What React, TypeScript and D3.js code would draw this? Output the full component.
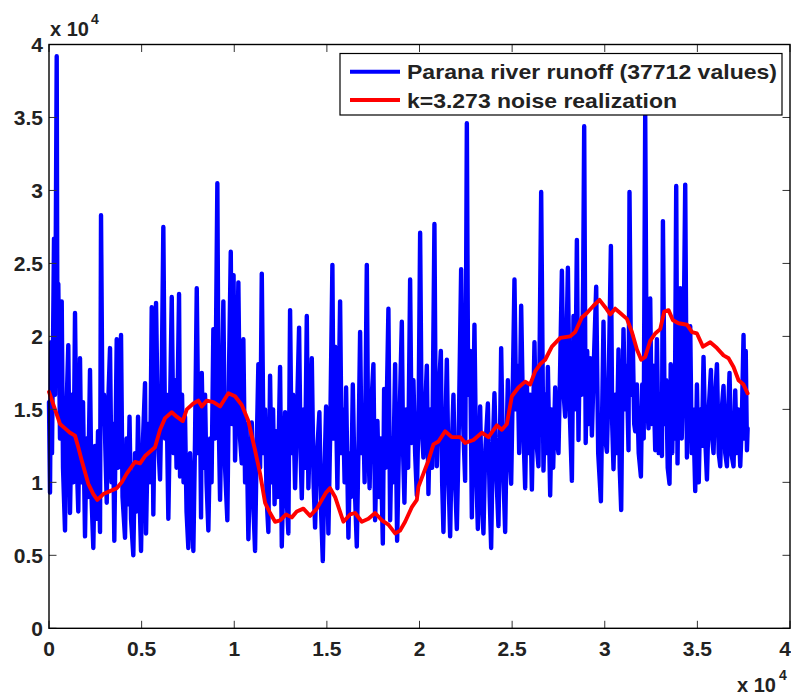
import React from "react";
import * as d3 from "d3";

// Parana river runoff as [sample index, runoff]
const runoff: [number, number][] = [
[0,15500],[54,9300],[108,19600],[162,12000],[270,26700],[324,16000],[416,39200],[459,17000],[502,23600],[594,13000],[686,22400],[756,11000],[864,6700],[945,15000],[1042,19400],[1134,7900],[1242,16000],[1323,10000],[1404,21600],[1485,12000],[1582,8000],[1674,18500],[1755,10000],[1836,15500],[1944,6300],[2025,13000],[2106,9000],[2214,17700],[2295,9000],[2392,5500],[2484,12500],[2565,7500],[2646,13500],[2754,6600],[2808,28300],[2889,14000],[2970,16000],[3116,8600],[3186,15000],[3294,19200],[3375,10000],[3456,14000],[3526,6000],[3591,13000],[3656,19800],[3726,11000],[3807,15000],[3888,20100],[3969,9000],[4104,6200],[4185,13000],[4266,8500],[4347,14500],[4428,7500],[4552,5000],[4644,12000],[4725,8000],[4806,14500],[4887,9000],[4968,5300],[5076,13000],[5184,16800],[5238,6500],[5346,14000],[5454,10000],[5546,22000],[5632,7800],[5778,22300],[5886,13000],[5994,10200],[6075,16000],[6172,27500],[6264,13000],[6345,16000],[6442,7500],[6534,15000],[6626,22700],[6723,12000],[6804,17000],[6885,11000],[7020,22900],[7074,10400],[7182,16000],[7263,10000],[7344,14500],[7425,8000],[7522,5500],[7614,12000],[7695,8500],[7792,5300],[7884,13000],[7976,23300],[8073,12000],[8154,15000],[8208,7600],[8246,17500],[8343,11000],[8424,16000],[8505,10000],[8602,6700],[8694,13000],[8775,10000],[8872,20500],[8964,13000],[9088,30500],[9153,15000],[9234,8800],[9315,15000],[9412,22400],[9504,11000],[9628,7400],[9720,18000],[9812,25800],[9882,14000],[9963,24200],[10044,11500],[10125,16000],[10222,23700],[10314,13000],[10406,11300],[10492,19800],[10584,10000],[10665,14000],[10762,6100],[10854,11000],[10946,14100],[11043,8000],[11124,5300],[11205,12000],[11302,18100],[11394,11000],[11486,24300],[11583,12000],[11664,15000],[11745,9000],[11842,6600],[11934,17300],[12015,10000],[12096,15000],[12177,8500],[12258,13500],[12339,9000],[12474,17900],[12566,5600],[12663,11000],[12744,14800],[12825,9000],[12922,6500],[13014,21800],[13095,12000],[13176,16000],[13284,9600],[13392,15000],[13500,20600],[13581,12000],[13646,8900],[13743,15000],[13824,11000],[13916,21400],[14002,9600],[14094,14000],[14186,18500],[14283,10000],[14364,6900],[14472,12000],[14596,14800],[14688,8000],[14780,4600],[14877,11000],[14958,15200],[15082,6500],[15174,13000],[15298,24900],[15363,13000],[15444,19300],[15568,9600],[15714,22400],[15795,12000],[15876,15000],[15957,10000],[16038,16500],[16162,6200],[16254,12000],[16308,9000],[16400,16700],[16497,10000],[16616,5600],[16713,13000],[16794,20300],[16875,12000],[16956,15000],[17037,10000],[17156,24900],[17226,13000],[17307,9600],[17388,15000],[17512,18100],[17604,7400],[17728,14200],[17820,9000],[17901,13000],[18020,5800],[18090,16400],[18171,11000],[18322,21900],[18414,7400],[18495,13000],[18576,10000],[18684,18100],[18792,6000],[18900,13000],[19046,21000],[19116,12000],[19186,8600],[19278,15000],[19386,11000],[19494,23900],[19575,12700],[19672,17000],[19764,12000],[19856,9100],[19953,15000],[20034,27100],[20115,14000],[20212,11700],[20304,15000],[20396,18000],[20482,9200],[20574,15000],[20682,11000],[20806,27700],[20871,15000],[20936,11100],[21033,16000],[21152,19000],[21222,10000],[21292,6600],[21384,13000],[21476,18400],[21573,10000],[21654,6300],[21735,12000],[21832,16000],[21924,10000],[22016,6800],[22113,13000],[22248,24600],[22356,14000],[22464,10100],[22556,34600],[22626,16000],[22734,19000],[22826,7600],[22966,20800],[23058,11000],[23150,6800],[23220,12000],[23274,15200],[23355,9000],[23452,6500],[23544,12000],[23690,15400],[23787,9000],[23868,5500],[23949,12000],[24046,16100],[24165,10000],[24262,7000],[24354,14000],[24408,19200],[24516,11000],[24624,6600],[24705,13000],[24770,17000],[24867,12000],[24948,9900],[25029,16000],[25126,23900],[25218,15000],[25299,18000],[25380,12000],[25488,22100],[25596,14000],[25704,9600],[25796,16700],[25893,12000],[25974,16000],[26066,9500],[26206,19600],[26298,13000],[26422,11100],[26568,29900],[26692,10800],[26784,16000],[26865,12000],[26930,17900],[27054,9100],[27135,15000],[27216,11000],[27324,16500],[27405,13000],[27502,12000],[27594,18000],[27686,24500],[27783,16000],[27864,14500],[28010,24700],[28107,15000],[28226,10100],[28312,21400],[28404,15000],[28496,26600],[28582,12900],[28674,21000],[28755,16000],[28836,24000],[28890,34400],[28971,12700],[29052,19000],[29133,14000],[29214,18500],[29306,13200],[29430,19000],[29538,23400],[29646,12000],[29792,8700],[29862,15000],[29932,21000],[30024,13000],[30116,12100],[30213,17000],[30332,26200],[30402,14000],[30472,10900],[30564,16000],[30645,12000],[30742,19100],[30807,11000],[30888,8100],[30942,15000],[31012,20500],[31104,15000],[31185,18000],[31282,12200],[31336,29900],[31428,16000],[31509,20000],[31590,14000],[31644,13500],[31736,16700],[31833,12000],[31952,10400],[32022,16700],[32103,13000],[32184,35300],[32265,16000],[32362,13700],[32454,22600],[32535,14000],[32616,18000],[32724,12200],[32816,19800],[32913,12000],[32994,16000],[33086,11800],[33140,27900],[33237,14000],[33318,17000],[33399,11000],[33496,9900],[33561,18100],[33642,12000],[33723,17000],[33777,13000],[33858,30300],[33928,11300],[33993,19000],[34074,23300],[34155,13000],[34236,17000],[34344,30400],[34436,11700],[34506,17000],[34614,20700],[34695,12000],[34776,15000],[34884,9400],[34976,16700],[35073,10000],[35154,15000],[35246,12500],[35332,18600],[35424,13000],[35516,10200],[35613,15000],[35732,17700],[35802,13000],[35872,12000],[35964,16000],[36056,18100],[36153,12000],[36234,11100],[36315,15000],[36412,16600],[36504,12000],[36596,11100],[36666,15000],[36736,17500],[36828,12000],[36952,11100],[37044,16300],[37125,12000],[37206,15000],[37314,11100],[37395,14000],[37492,20100],[37557,13000],[37611,19000],[37676,12200],[37712,13700]
];

// k=3.273 noise realization as [sample index, value]
const noise: [number, number][] = [
[0,16200],[324,15000],[594,14000],[864,13700],[1134,13400],[1404,13200],[1582,12400],[1766,11500],[2122,9900],[2392,9200],[2608,8800],[2932,9200],[3294,9400],[3656,9600],[3926,10000],[4196,10600],[4644,11400],[4914,11300],[5184,11800],[5724,12400],[5994,13600],[6264,14400],[6626,14800],[6896,14500],[7220,14200],[7436,15000],[7792,15400],[8062,15600],[8246,15200],[8516,15600],[8872,15500],[9234,15200],[9682,16100],[10044,15900],[10406,15300],[10762,14200],[11124,12200],[11394,10600],[11664,8600],[11934,7900],[12204,7300],[12474,7400],[12798,7800],[13106,7600],[13376,8000],[13732,8200],[14094,7700],[14456,8200],[14726,8800],[14958,9300],[15174,9600],[15444,9000],[15892,7300],[16254,7800],[16524,7900],[16886,7300],[17242,7500],[17604,7900],[17966,7400],[18322,7100],[18684,6500],[18954,6700],[19224,7300],[19586,8300],[19856,8800],[19942,9700],[20212,10600],[20482,11500],[20752,12600],[21022,12800],[21384,13500],[21746,13100],[22194,13100],[22464,12700],[22912,12900],[23366,13400],[23722,13100],[24176,13900],[24446,13600],[24716,14000],[24986,15900],[25342,16500],[25704,16900],[25974,16700],[26244,17600],[26514,18100],[26784,18400],[27146,19300],[27594,19900],[28134,20000],[28404,20300],[28766,21300],[29036,21600],[29392,22100],[29716,22500],[30024,22000],[30294,21500],[30564,21900],[30834,21600],[31196,21200],[31466,20300],[31736,19100],[31968,18400],[32184,18600],[32454,19700],[32724,20200],[32994,20500],[33210,21700],[33442,21800],[33680,21100],[33982,20900],[34436,20800],[34706,20300],[34976,20200],[35300,19300],[35694,19600],[36056,19200],[36412,18700],[36682,18500],[36952,17900],[37222,17000],[37492,16700],[37712,16100]
];

const xTicks = [0, 5000, 10000, 15000, 20000, 25000, 30000, 35000, 40000];
const yTicks = [0, 5000, 10000, 15000, 20000, 25000, 30000, 35000, 40000];
const tickLabels = ["0", "0.5", "1", "1.5", "2", "2.5", "3", "3.5", "4"];
const legendLabels = ["Parana river runoff (37712 values)", "k=3.273 noise realization"];
const seriesColors = ["#0000ff", "#ff0000"];

export default function App() {
  const W = 791, H = 695;
  const left = 49, right = 790, top = 44.5, bottom = 628.3;
  const x = d3.scaleLinear().domain([0, 40000]).range([left, right]);
  const y = d3.scaleLinear().domain([0, 40000]).range([bottom, top]);
  const line = d3.line<[number, number]>().x(d => x(d[0])).y(d => y(d[1]));
  const font = "'Liberation Sans', Arial, Helvetica, sans-serif";
  const txt = "#222";
  const tl = 7.5;
  return (
    <svg width={W} height={H} style={{ position: "absolute", left: 0, top: 0, background: "#fff" }}
      fontFamily={font} fontWeight="bold">
      <rect x={0} y={0} width={W} height={H} fill="#fff" />
      <path d={line(runoff) || ""} fill="none" stroke={seriesColors[0]} strokeWidth={4.4} strokeLinejoin="round" strokeLinecap="round" />
      <path d={line(noise) || ""} fill="none" stroke={seriesColors[1]} strokeWidth={3.9} strokeLinejoin="round" strokeLinecap="round" />
      {/* ticks */}
      {xTicks.map((t, i) => (
        <g key={"x" + i}>
          <line x1={x(t)} x2={x(t)} y1={bottom} y2={bottom - tl} stroke="#333" strokeWidth={1} />
          <line x1={x(t)} x2={x(t)} y1={top} y2={top + tl} stroke="#333" strokeWidth={1} />
          <text x={i === xTicks.length - 1 ? 791 : x(t)} y={656}
            textAnchor={i === xTicks.length - 1 ? "end" : "middle"} fontSize={21} fill={txt}>{tickLabels[i]}</text>
        </g>
      ))}
      {yTicks.map((t, i) => (
        <g key={"y" + i}>
          <line x1={left} x2={left + tl} y1={y(t)} y2={y(t)} stroke="#333" strokeWidth={1} />
          <line x1={right} x2={right - tl} y1={y(t)} y2={y(t)} stroke="#333" strokeWidth={1} />
          <text x={43} y={y(t) + 7.5} textAnchor="end" fontSize={21} fill={txt}>{tickLabels[i]}</text>
        </g>
      ))}
      <rect x={left} y={top} width={right - left} height={bottom - top} fill="none" stroke="#000" strokeWidth={1.4} />
      {/* exponent labels */}
      <text x={50} y={36} fontSize={20} fill={txt}>x 10</text>
      <text x={91} y={24} fontSize={14} fill={txt}>4</text>
      <text x={737} y={692} fontSize={20} fill={txt}>x 10</text>
      <text x={779} y={680} fontSize={14} fill={txt}>4</text>
      {/* legend */}
      <rect x={340} y={53.5} width={442} height={61.5} fill="#fff" stroke="#000" strokeWidth={1.2} />
      {legendLabels.map((lab, i) => {
        const ly = 71.7 + i * 28.3;
        return (
          <g key={"l" + i}>
            <line x1={350} x2={400} y1={ly} y2={ly} stroke={seriesColors[i]} strokeWidth={3.9} />
            <text x={407} y={ly + 7.5} fontSize={21} fill={txt}
              textLength={i === 0 ? 370 : 270} lengthAdjust="spacingAndGlyphs">{lab}</text>
          </g>
        );
      })}
    </svg>
  );
}
